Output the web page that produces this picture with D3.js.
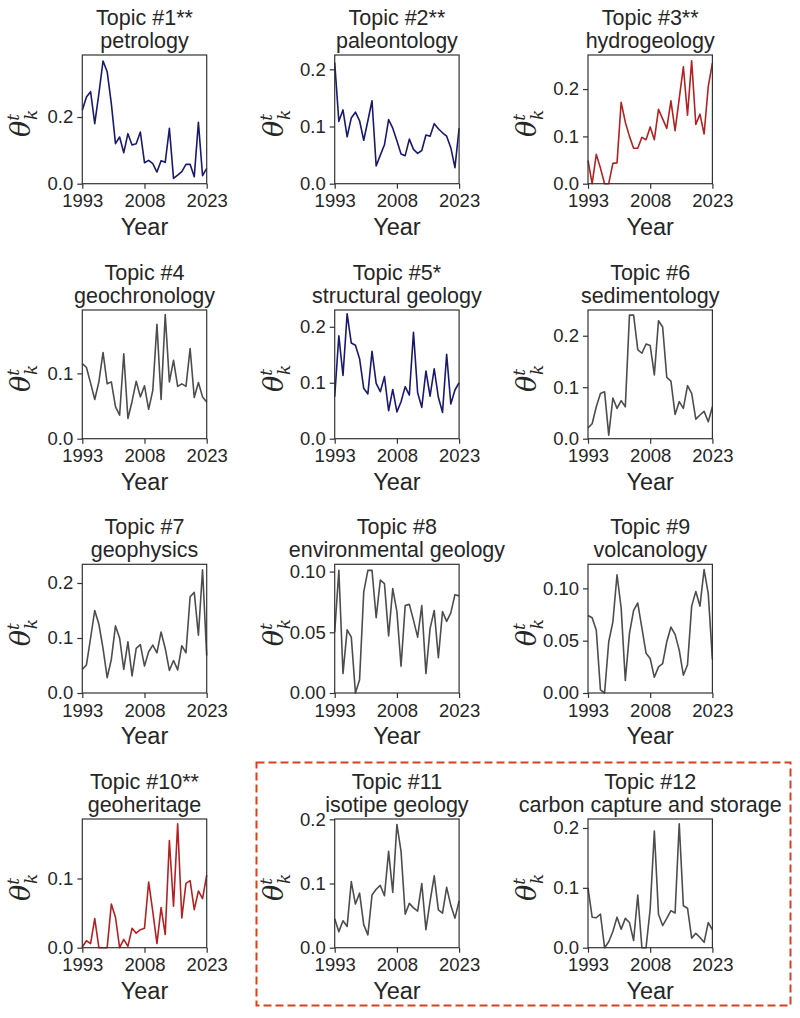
<!DOCTYPE html>
<html><head><meta charset="utf-8">
<script src="https://cdn.jsdelivr.net/npm/d3@7"></script>
<style>
html,body{margin:0;padding:0;background:#fff;}
svg{display:block;font-family:"Liberation Sans",Arial,sans-serif;}
</style></head>
<body><svg id="chart" width="800" height="1018"></svg>
<script>
const years = d3.range(1993, 2024);
const xTickLabels = [1993, 2008, 2023];

const topicTitles = ["Topic #1**","Topic #2**","Topic #3**","Topic #4","Topic #5*","Topic #6","Topic #7","Topic #8","Topic #9","Topic #10**","Topic #11","Topic #12"];
const topicNames = ["petrology","paleontology","hydrogeology","geochronology","structural geology","sedimentology","geophysics","environmental geology","volcanology","geoheritage","isotipe geology","carbon capture and storage"];
const topicTrend = ["down","down","up","none","down","none","none","none","none","up","none","none"];

const topic1 = [0.22,0.26,0.276,0.18,0.27,0.368,0.336,0.24,0.12,0.14,0.093,0.15,0.116,0.12,0.155,0.063,0.07,0.06,0.035,0.069,0.064,0.166,0.016,0.026,0.036,0.058,0.058,0.021,0.184,0.024,0.046];
const topic2 = [0.212,0.109,0.129,0.082,0.115,0.125,0.11,0.076,0.11,0.145,0.031,0.05,0.068,0.112,0.097,0.075,0.052,0.049,0.078,0.06,0.053,0.058,0.085,0.083,0.105,0.096,0.089,0.083,0.063,0.028,0.097];
const topic3 = [0.049,0.0,0.062,0.033,0.0,0.0,0.043,0.044,0.172,0.13,0.1,0.075,0.075,0.098,0.093,0.12,0.093,0.157,0.137,0.117,0.175,0.112,0.18,0.247,0.145,0.26,0.125,0.147,0.105,0.205,0.255];
const topic4 = [0.115,0.109,0.085,0.06,0.087,0.132,0.084,0.087,0.049,0.036,0.13,0.031,0.057,0.088,0.064,0.081,0.045,0.074,0.175,0.06,0.19,0.087,0.12,0.08,0.084,0.08,0.138,0.063,0.086,0.064,0.056];
const topic5 = [0.075,0.184,0.113,0.223,0.171,0.167,0.143,0.09,0.08,0.156,0.099,0.084,0.111,0.05,0.088,0.048,0.066,0.093,0.078,0.19,0.082,0.056,0.121,0.076,0.125,0.074,0.047,0.151,0.062,0.087,0.1];
const topic6 = [0.021,0.029,0.062,0.088,0.091,0.007,0.079,0.059,0.074,0.062,0.24,0.24,0.173,0.166,0.184,0.181,0.124,0.229,0.217,0.119,0.112,0.047,0.072,0.059,0.103,0.088,0.038,0.046,0.053,0.033,0.062];
const topic7 = [0.043,0.051,0.1,0.15,0.125,0.081,0.028,0.061,0.122,0.1,0.043,0.093,0.031,0.081,0.088,0.049,0.075,0.087,0.073,0.111,0.081,0.041,0.059,0.042,0.086,0.073,0.175,0.183,0.105,0.224,0.068];
const topic8 = [0.05,0.101,0.016,0.052,0.046,0.0,0.011,0.083,0.101,0.101,0.062,0.093,0.09,0.047,0.086,0.067,0.022,0.072,0.073,0.06,0.046,0.072,0.016,0.053,0.068,0.029,0.067,0.059,0.066,0.081,0.08];
const topic9 = [0.074,0.072,0.06,0.003,0.0,0.049,0.068,0.113,0.081,0.012,0.057,0.079,0.086,0.062,0.038,0.033,0.015,0.025,0.028,0.049,0.063,0.056,0.041,0.017,0.027,0.083,0.097,0.083,0.118,0.095,0.032];
const topic10 = [0.001,0.01,0.006,0.042,0.0,0.0,0.0,0.063,0.044,0.0,0.012,0.002,0.028,0.021,0.026,0.028,0.095,0.052,0.006,0.058,0.019,0.155,0.06,0.179,0.043,0.093,0.097,0.055,0.082,0.071,0.105];
const topic11 = [0.045,0.025,0.042,0.033,0.103,0.068,0.085,0.036,0.02,0.082,0.091,0.097,0.081,0.15,0.086,0.192,0.15,0.052,0.069,0.062,0.057,0.1,0.028,0.072,0.112,0.059,0.054,0.094,0.066,0.046,0.073];
const topic12 = [0.1,0.051,0.05,0.056,0.0,0.01,0.027,0.051,0.031,0.049,0.042,0.012,0.088,0.0,0.0,0.065,0.195,0.056,0.037,0.049,0.062,0.058,0.207,0.07,0.066,0.016,0.024,0.017,0.009,0.042,0.03];
const topicValues = [topic1,topic2,topic3,topic4,topic5,topic6,topic7,topic8,topic9,topic10,topic11,topic12];

const yMax = [0.386,0.225,0.272,0.197,0.23,0.25,0.234,0.106,0.123,0.186,0.2005,0.215];
const yTicks = [[0,0.2],[0,0.1,0.2],[0,0.1,0.2],[0,0.1],[0,0.1,0.2],[0,0.1,0.2],[0,0.1,0.2],[0,0.05,0.1],[0,0.05,0.1],[0,0.1],[0,0.1,0.2],[0,0.1,0.2]];
const yTickFmt = ["0.1f","0.1f","0.1f","0.1f","0.1f","0.1f","0.1f","0.2f","0.2f","0.1f","0.1f","0.1f"];

const colorMap = {down:"#191970", up:"#b22222", none:"#4d4d4d"};
const textColor = "#262626";

const colX = [82.3, 334.7, 588];
const rowY = [55, 310, 564.3, 819];
const W = 124.4, H = 128.7;

const svg = d3.select("#chart");

topicValues.forEach((vals, i) => {
  const c = i % 3, r = Math.floor(i / 3);
  const g = svg.append("g").attr("transform", `translate(${colX[c]},${rowY[r]})`);
  const x = d3.scaleLinear().domain([1993, 2023]).range([0, W]);
  const y = d3.scaleLinear().domain([0, yMax[i]]).range([H, 0]);

  g.append("path")
    .datum(vals.map((v, k) => [years[k], v]))
    .attr("fill", "none")
    .attr("stroke", colorMap[topicTrend[i]])
    .attr("stroke-width", 1.6)
    .attr("stroke-linejoin", "round")
    .attr("d", d3.line().x(d => x(d[0])).y(d => y(d[1])));

  const xa = g.append("g").attr("transform", `translate(0,${H})`)
    .call(d3.axisBottom(x).tickValues(xTickLabels).tickFormat(d3.format("d")).tickSize(5).tickPadding(5.5));
  const ya = g.append("g")
    .call(d3.axisLeft(y).tickValues(yTicks[i]).tickFormat(d3.format(yTickFmt[i])).tickSize(5).tickPadding(4));
  [xa, ya].forEach(a => {
    a.attr("font-size", null).attr("font-family", null);
    a.select(".domain").remove();
    a.selectAll("line").attr("stroke", "#333").attr("stroke-width", 1.2);
    a.selectAll("text").attr("fill", textColor).attr("font-size", 18.5);
  });
  ya.selectAll("text").attr("dy", "0.32em");
  xa.selectAll("text").attr("dy", "0.71em");

  g.append("rect").attr("width", W).attr("height", H)
    .attr("fill", "none").attr("stroke", "#333").attr("stroke-width", 1.2);

  g.append("text").attr("x", W / 2).attr("y", -30).attr("text-anchor", "middle")
    .attr("fill", textColor).attr("font-size", 21.5).text(topicTitles[i]);
  g.append("text").attr("x", W / 2).attr("y", -7).attr("text-anchor", "middle")
    .attr("fill", textColor).attr("font-size", 21.5).text(topicNames[i]);

  g.append("text").attr("x", W / 2).attr("y", H + 51).attr("text-anchor", "middle")
    .attr("fill", textColor).attr("font-size", 23.5).text("Year");

  const yl = g.append("text")
    .attr("transform", `translate(-52,${H / 2 + 4}) rotate(-90)`)
    .attr("text-anchor", "middle").attr("fill", textColor)
    .attr("font-size", 27);
  yl.append("tspan").attr("font-family", "'DejaVu Serif',serif").attr("font-style", "italic").text("θ");
  yl.append("tspan").attr("font-family", "'DejaVu Serif',serif").attr("font-style", "italic")
    .attr("font-size", 17).attr("dy", -11).text("t");
  yl.append("tspan").attr("font-family", "'DejaVu Serif',serif").attr("font-style", "italic")
    .attr("font-size", 17).attr("dx", -6).attr("dy", 18).text("k");
});

svg.append("rect")
  .attr("x", 256.5).attr("y", 762.5).attr("width", 534).attr("height", 243)
  .attr("fill", "none").attr("stroke", "#d9411e").attr("stroke-width", 2)
  .attr("stroke-dasharray", "8,4");
</script></body></html>
